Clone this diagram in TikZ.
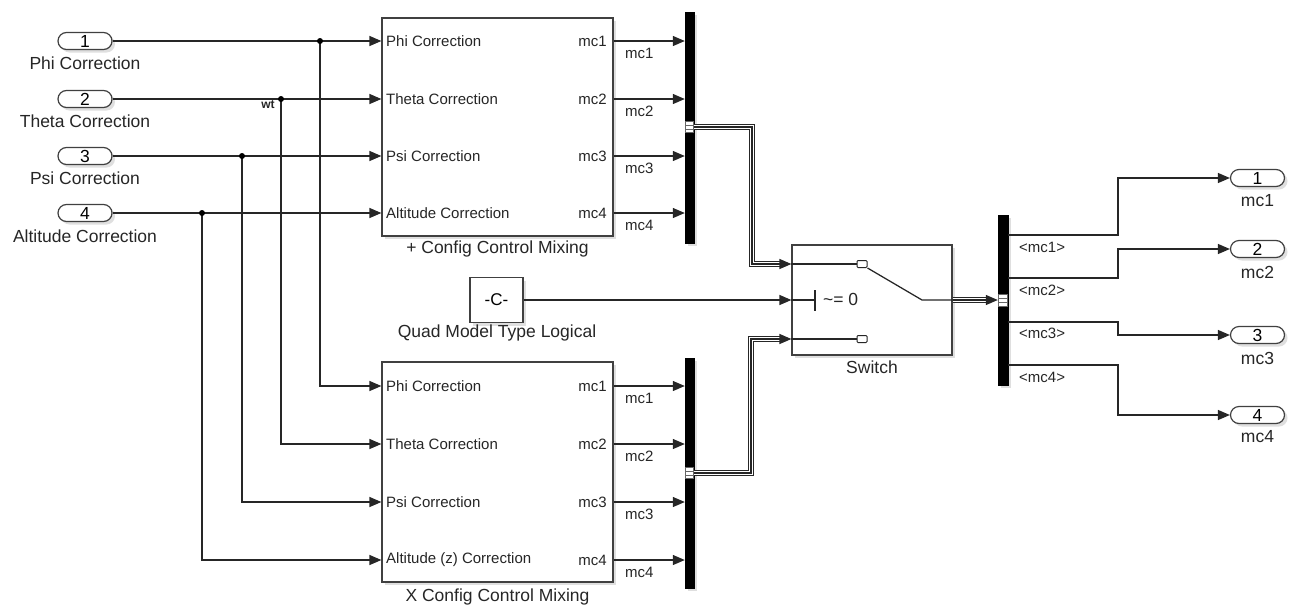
\documentclass[tikz,border=0pt]{standalone}
\usepackage{fontspec}
\setmainfont{Liberation Sans}
\usetikzlibrary{arrows.meta,shadows,calc}
\newcommand{\myfs}[1]{\fontsize{#1}{#1}\selectfont}
\begin{document}
\begin{tikzpicture}[x=1pt,y=-1pt,
  wire/.style={draw=black!85, line width=1.25pt},
  sig/.style={wire, -{Triangle[length=12pt,width=10pt]}},
  shad/.style={drop shadow={shadow xshift=3pt,shadow yshift=-3pt,fill=black!25}},
  blk/.style={draw=black!75, line width=1.2pt, fill=white, shad, inner sep=0pt},
  port/.style={blk, rounded corners=8.5pt, minimum width=54pt, minimum height=17pt, font=\myfs{17.5}},
  bar/.style={fill=black, draw=black, shad, inner sep=0pt, minimum width=9pt},
  lbl/.style={font=\myfs{17.5}, inner sep=0pt, text=black!85},
  inl/.style={font=\myfs{15}, inner sep=0pt, text=black!85},
  bus/.style={draw=black!85, line width=6.5pt, postaction={draw=white, line width=4pt}, postaction={draw=black!85, line width=1.2pt}},
  jdot/.style={circle, fill=black, inner sep=0pt, minimum size=6pt},
  busmark/.style={draw=black!60, fill=white, line width=0.6pt, minimum width=8pt, minimum height=11pt, inner sep=0pt},
  contact/.style={draw=black!85, fill=white, line width=1pt, rounded corners=1pt, minimum width=10pt, minimum height=7pt, inner sep=0pt},
]
\useasboundingbox (0,0) rectangle (1299,606);

% ---------- input ports ----------
\node[port] (in1) at (85,41) {1};
\node[port] (in2) at (85,99) {2};
\node[port] (in3) at (85,156) {3};
\node[port] (in4) at (85,213) {4};
\node[lbl] (in1l) at (85,63) {Phi Correction};
\node[lbl] (in2l) at (85,121) {Theta Correction};
\node[lbl] (in3l) at (85,178) {Psi Correction};
\node[lbl] (in4l) at (85,236) {Altitude Correction};

% ---------- subsystems ----------
\node[blk, minimum width=231pt, minimum height=218pt] (mixA) at (497.5,127) {};
\node[lbl] (mixAl) at (497.5,249) {+ Config Control Mixing};
\node[blk, minimum width=231pt, minimum height=220pt] (mixB) at (497.5,472) {};
\node[lbl] (mixBl) at (497.5,597) {X Config Control Mixing};

\node[inl, anchor=west] (a1) at (386,41) {Phi Correction};
\node[inl, anchor=west] (a2) at (386,99) {Theta Correction};
\node[inl, anchor=west] (a3) at (386,156) {Psi Correction};
\node[inl, anchor=west] (a4) at (386,213) {Altitude Correction};
\node[inl, anchor=east] (ao1) at (607,41) {mc1};
\node[inl, anchor=east] (ao2) at (607,99) {mc2};
\node[inl, anchor=east] (ao3) at (607,156) {mc3};
\node[inl, anchor=east] (ao4) at (607,213) {mc4};

\node[inl, anchor=west] (c1) at (386,386) {Phi Correction};
\node[inl, anchor=west] (c2) at (386,444) {Theta Correction};
\node[inl, anchor=west] (c3) at (386,502) {Psi Correction};
\node[inl, anchor=west] (c4) at (386,560) {Altitude (z) Correction};
\node[inl, anchor=east] (co1) at (607,386) {mc1};
\node[inl, anchor=east] (co2) at (607,444) {mc2};
\node[inl, anchor=east] (co3) at (607,502) {mc3};
\node[inl, anchor=east] (co4) at (607,560) {mc4};

% ---------- bus bars ----------
\node[bar, minimum height=231pt] (barA) at (689.5,127.5) {};
\node[bar, minimum height=230pt] (barB) at (689.5,473) {};
\node[bar, minimum width=10pt, minimum height=170pt] (barC) at (1003,300) {};

% ---------- constant & switch ----------
\node[blk, minimum width=53pt, minimum height=45pt, font=\myfs{17}] (const) at (496.5,300) {-C-};
\node[lbl] (constl) at (497,333) {Quad Model Type Logical};
\node[blk, minimum width=160pt, minimum height=110pt] (sw) at (872,300) {};
\node[lbl] (swl) at (872,367) {Switch};

% ---------- output ports ----------
\node[port] (out1) at (1257.5,178) {1};
\node[port] (out2) at (1257.5,249) {2};
\node[port] (out3) at (1257.5,335) {3};
\node[port] (out4) at (1257.5,415) {4};
\node[lbl] (out1l) at (1257.5,201) {mc1};
\node[lbl] (out2l) at (1257.5,272) {mc2};
\node[lbl] (out3l) at (1257.5,358) {mc3};
\node[lbl] (out4l) at (1257.5,437) {mc4};

% ---------- input wiring ----------
\draw[sig] (in1.east) -- (in1.east -| mixA.west);
\draw[sig] (in2.east) -- (in2.east -| mixA.west);
\draw[sig] (in3.east) -- (in3.east -| mixA.west);
\draw[sig] (in4.east) -- (in4.east -| mixA.west);
\coordinate (b1) at (320,41);
\coordinate (b2) at (281,99);
\coordinate (b3) at (242,156);
\coordinate (b4) at (202,213);
\draw[sig] (b1) |- (mixB.west |- 0,386);
\draw[sig] (b2) |- (mixB.west |- 0,444);
\draw[sig] (b3) |- (mixB.west |- 0,502);
\draw[sig] (b4) |- (mixB.west |- 0,560);
\node[jdot] (d1) at (b1) {};
\node[jdot] (d2) at (b2) {};
\node[jdot] (d3) at (b3) {};
\node[jdot] (d4) at (b4) {};
\node[font=\myfs{12}\bfseries, inner sep=0pt, text=black!85] (wt) at (268,105) {wt};

% ---------- subsystem outputs to bus bars ----------
\foreach \y/\t in {41/1,99/2,156/3,213/4} {
  \draw[sig] (mixA.east |- 0,\y) -- (barA.west |- 0,\y);
  \node[inl, anchor=west] (la\t) at (625,\y+12) {mc\t};
}
\foreach \y/\t in {386/1,444/2,502/3,560/4} {
  \draw[sig] (mixB.east |- 0,\y) -- (barB.west |- 0,\y);
  \node[inl, anchor=west] (lb\t) at (625,\y+12) {mc\t};
}

% ---------- buses to switch ----------
\coordinate (sw1) at (sw.west |- 0,264);
\coordinate (sw3) at (sw.west |- 0,339);
\coordinate (cA) at (752,127);
\coordinate (cB) at (751,473);
\draw[bus] (barA.east |- cA) -- (cA) |- ($(sw1)+(-10,0)$);
\draw[sig] ($(sw1)+(-13,0)$) -- (sw1);
\draw[bus] (barB.east |- cB) -- (cB) |- ($(sw3)+(-10,0)$);
\draw[sig] ($(sw3)+(-13,0)$) -- (sw3);
\draw[sig] (const.east) -- (sw.west |- const.east);

% bus marks on bars
\node[busmark] (mA) at (689.5,127) {};
\draw[black!60, line width=0.6pt] (mA.west |- 0,125) -- (mA.east |- 0,125) (mA.west |- 0,129) -- (mA.east |- 0,129);
\node[busmark] (mB) at (689.5,473) {};
\draw[black!60, line width=0.6pt] (mB.west |- 0,471) -- (mB.east |- 0,471) (mB.west |- 0,475) -- (mB.east |- 0,475);

% ---------- switch internals ----------
\node[contact] (k1) at (862,264) {};
\node[contact] (k3) at (862,339) {};
\draw[wire] (sw1) -- (k1.west);
\draw[wire] (sw3) -- (k3.west);
\coordinate (pivot) at (922,300);
\draw[wire] (k1.south east) -- (pivot) -- (sw.east);
\coordinate (ctl) at (815,300);
\draw[wire] (sw.west) -- (ctl);
\draw[wire] (815,290) -- (815,311);
\node[lbl, anchor=west] (swc) at (823,299) {\textasciitilde= 0};

% ---------- switch output to demux ----------
\draw[bus] (sw.east) -- ($(barC.west |- sw.east)+(-10,0)$);
\draw[sig] ($(barC.west |- sw.east)+(-13,0)$) -- (barC.west |- sw.east);
\node[busmark, minimum width=9pt, minimum height=12pt] (mC) at (1003,300) {};
\draw[black!60, line width=0.6pt] (mC.west |- 0,298) -- (mC.east |- 0,298) (mC.west |- 0,302) -- (mC.east |- 0,302);

% ---------- demux outputs ----------
\draw[sig] (barC.east |- 0,235) -- (1118,235) |- (out1.west);
\draw[sig] (barC.east |- 0,278) -- (1118,278) |- (out2.west);
\draw[sig] (barC.east |- 0,322) -- (1118,322) |- (out3.west);
\draw[sig] (barC.east |- 0,365) -- (1118,365) |- (out4.west);
\node[inl, anchor=west] (s1) at (1019,247) {\textless mc1\textgreater};
\node[inl, anchor=west] (s2) at (1019,290) {\textless mc2\textgreater};
\node[inl, anchor=west] (s3) at (1019,333) {\textless mc3\textgreater};
\node[inl, anchor=west] (s4) at (1019,377) {\textless mc4\textgreater};
\end{tikzpicture}
\end{document}
